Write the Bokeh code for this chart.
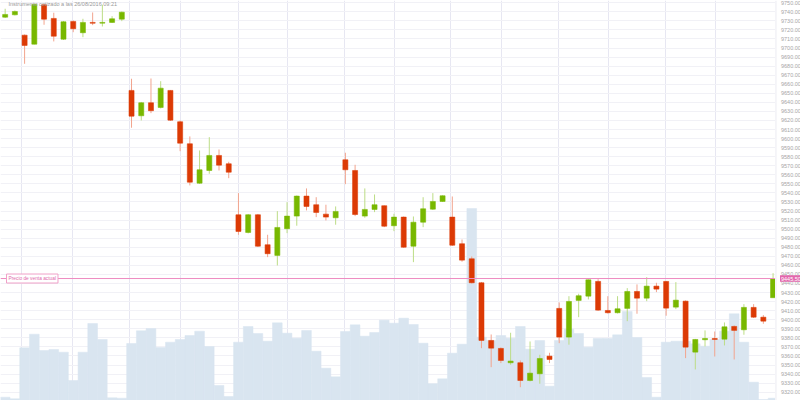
import numpy as np
from bokeh.plotting import figure
from bokeh.layouts import row
from bokeh.models import (Range1d, SingleIntervalTicker, FixedTicker, Span, Label,
                          ColumnDataSource)
from bokeh.core.properties import value
from bokeh.embed import file_html
from bokeh.resources import INLINE

title_text = "Instrumento cotizado a las 26/08/2016 09:21"
current_label = "Precio de venta actual"
current_price = 9445.5

opens = [9734.1, 9736.7, 9714.2, 9704.3, 9747.8, 9732.7, 9709.8, 9729.4, 9716.9, 9728.3,
         9727.5, 9728.3, 9731.9, 9653.2, 9625.2, 9639.6, 9634.4, 9653.2, 9618.6, 9594.3,
         9550.8, 9564.8, 9581.4, 9572.2, 9515.9, 9496.4, 9515.9, 9482.8, 9471.0, 9500.5,
         9514.4, 9536.5, 9527.0, 9516.6, 9512.6, 9576.6, 9564.8, 9514.4, 9521.8, 9525.9,
         9503.8, 9513.3, 9481.2, 9507.7, 9522.1, 9530.6, 9513.3, 9483.9, 9467.3, 9440.8,
         9377.1, 9368.3, 9352.5, 9352.5, 9332.9, 9340.3, 9359.8, 9412.5, 9380.8, 9421.3,
         9426.0, 9442.3, 9410.2, 9407.7, 9412.5, 9431.2, 9423.8, 9437.1, 9442.3, 9413.9,
         9420.5, 9364.2, 9377.9, 9379.3, 9378.5, 9392.6, 9388.9, 9413.6, 9402.8, 9424.3]

closes = [9737.1, 9740.4, 9702.9, 9748.1, 9731.9, 9713.1, 9729.0, 9721.3, 9728.3, 9727.4,
          9728.3, 9732.3, 9739.6, 9624.8, 9639.6, 9630.8, 9655.7, 9620.4, 9595.0, 9551.9,
          9565.6, 9581.4, 9570.7, 9562.9, 9497.5, 9515.9, 9481.2, 9472.9, 9501.9, 9514.4,
          9536.5, 9525.1, 9518.5, 9513.3, 9519.6, 9565.6, 9516.2, 9521.8, 9527.0, 9503.3,
          9513.3, 9480.1, 9507.7, 9522.5, 9530.6, 9536.9, 9482.3, 9465.8, 9440.8, 9377.1,
          9368.6, 9355.0, 9354.3, 9332.9, 9341.0, 9357.2, 9356.1, 9380.8, 9420.2, 9426.5,
          9444.1, 9410.6, 9407.7, 9412.1, 9431.2, 9423.8, 9437.1, 9433.8, 9412.8, 9421.6,
          9369.7, 9378.2, 9379.3, 9378.2, 9392.2, 9388.2, 9413.6, 9402.8, 9398.4, 9445.5]

highs = [9743.4, 9741.5, 9715.0, 9749.2, 9748.7, 9739.0, 9729.9, 9730.5, 9732.3, 9739.3,
         9747.8, 9735.2, 9740.4, 9666.1, 9640.5, 9666.4, 9663.4, 9653.7, 9620.0, 9602.4,
         9586.9, 9601.6, 9588.0, 9574.4, 9539.8, 9516.8, 9516.8, 9493.8, 9519.9, 9529.8,
         9537.2, 9545.0, 9535.3, 9527.0, 9525.1, 9584.4, 9571.1, 9545.0, 9538.3, 9526.2,
         9517.0, 9514.0, 9514.0, 9535.3, 9539.8, 9537.4, 9536.1, 9488.6, 9469.9, 9441.7,
         9383.7, 9369.4, 9385.6, 9355.0, 9376.0, 9361.3, 9363.5, 9419.1, 9426.0, 9428.7,
         9444.5, 9444.8, 9426.0, 9426.0, 9434.9, 9439.0, 9447.0, 9440.8, 9442.8, 9441.5,
         9421.3, 9378.8, 9388.2, 9387.0, 9397.0, 9393.7, 9417.2, 9417.2, 9405.1, 9451.4]

lows = [9733.2, 9736.0, 9682.6, 9704.0, 9725.7, 9707.3, 9708.9, 9717.5, 9712.0, 9725.3,
        9723.8, 9727.7, 9729.7, 9612.0, 9620.0, 9628.1, 9633.3, 9619.5, 9586.1, 9548.3,
        9549.9, 9561.2, 9564.8, 9556.3, 9493.8, 9495.3, 9480.4, 9469.1, 9459.9, 9495.6,
        9503.8, 9520.7, 9513.3, 9509.6, 9504.9, 9549.7, 9514.4, 9512.6, 9518.8, 9502.2,
        9497.8, 9479.3, 9463.6, 9502.2, 9521.2, 9530.0, 9481.5, 9464.0, 9440.0, 9368.6,
        9347.6, 9352.1, 9350.3, 9325.5, 9331.8, 9329.3, 9352.1, 9374.1, 9372.4, 9402.8,
        9422.4, 9409.7, 9406.9, 9406.9, 9398.4, 9406.6, 9420.5, 9430.5, 9404.4, 9411.7,
        9357.6, 9345.1, 9370.5, 9359.4, 9371.6, 9356.1, 9383.4, 9401.9, 9395.5, 9424.3]

volumes = [33, 17, 527, 663, 500, 510, 483, 200, 483, 770,
           610, 27, 23, 570, 697, 720, 530, 583, 610, 650,
           693, 540, 150, 40, 583, 740, 670, 593, 777, 673,
           623, 700, 493, 323, 237, 690, 757, 643, 680, 803,
           773, 823, 760, 573, 167, 217, 473, 563, 1920, 633,
           600, 650, 623, 740, 513, 600, 143, 600, 713, 670,
           533, 620, 620, 657, 890, 630, 230, 33, 583, 593,
           593, 567, 543, 610, 693, 867, 583, 183, 10, 23]

# time grid ticks (in candle units)
time_ticks = [1.68, 6.95, 12.8, 18.0, 23.97, 29.0, 34.9, 40.05, 45.8, 51.1,
              56.9, 62.1, 67.9, 73.1]

# price axis ticks
price_ticks = list(range(9320, 9751, 10))
price_tick_labels = [f"{t:.2f}" for t in price_ticks]

GREEN = "#78b800"
RED = "#dc3a05"
GREEN_W = "#bcdd86"
RED_W = "#f2a48e"
PINK = "#e367ad"

n = len(opens)
idx = np.arange(n)
o = np.array(opens); c = np.array(closes)
up = c >= o
src = ColumnDataSource(dict(
    x=idx, top=np.maximum(o, c), bottom=np.minimum(o, c),
    high=highs, low=lows,
    body=[GREEN if u else RED for u in up],
    wick=[GREEN_W if u else RED_W for u in up],
))
vsrc = ColumnDataSource(dict(x=idx, v=volumes))

yr = Range1d(9310.8, 9752.5)

p = figure(width=775, height=400, output_backend="svg", toolbar_location=None,
           x_range=Range1d(-0.48, 79.25), y_range=yr,
           min_border_left=0, min_border_top=0, min_border_bottom=0, min_border_right=0)
p.outline_line_color = None
p.background_fill_color = "white"
p.extra_y_ranges = {"vol": Range1d(0, 4000)}
p.xaxis.visible = False
p.yaxis.visible = False
p.xgrid.ticker = FixedTicker(ticks=time_ticks)
p.xgrid.grid_line_color = "#e7e7f2"
p.ygrid.ticker = SingleIntervalTicker(interval=10)
p.ygrid.grid_line_color = "#f1f1f6"

p.vbar(x="x", width=1.0, top="v", bottom=0, source=vsrc, y_range_name="vol",
       fill_color="#d9e5f0", line_color="#d9e5f0", line_width=0.5)

p.segment(x0="x", y0="low", x1="x", y1="high", source=src, line_color="wick", line_width=1)
p.vbar(x="x", width=0.52, top="top", bottom="bottom", source=src,
       fill_color="body", line_color="body", line_alpha=0.55, line_width=1)

p.add_layout(Span(location=current_price, dimension="width", line_color="#ee8cc2", line_width=1))

p.add_layout(Label(x=0.14, y=current_price, text=current_label, text_baseline="middle",
                   text_font_size="4.8px", text_color="#e06aaa", text_font="Liberation Sans",
                   background_fill_color="white", border_line_color="#f0a0c8",
                   padding=2))
p.add_layout(Label(x=0.34, y=9752.5, y_offset=-0.5, text=title_text, text_baseline="top",
                   text_font_size="5.5px", text_color="#999999", text_font="Liberation Sans"))

# right price scale panel
p2 = figure(width=25, height=400, output_backend="svg", toolbar_location=None,
            x_range=Range1d(0, 25), y_range=yr,
            min_border_left=0, min_border_top=0, min_border_bottom=0, min_border_right=0)
p2.outline_line_color = None
p2.xaxis.visible = False
p2.yaxis.visible = False
p2.grid.visible = False
p2.add_layout(Span(location=0.3, dimension="height", line_color="#dfe0ec", line_width=1))
tsrc = ColumnDataSource(dict(y=price_ticks, t=price_tick_labels))
p2.text(x=5.5, y="y", text="t", source=tsrc, text_font=value("Liberation Sans"),
        text_font_size="5.5px", text_color="#a6a6a6", text_baseline="middle", text_align="left")
p2.quad(left=4.5, right=25, bottom=current_price - 3.7, top=current_price + 3.7,
        fill_color=PINK, line_color=None)
p2.text(x=[5.5], y=[current_price], text=[f"{current_price:.2f}"], text_font=value("Liberation Sans"),
        text_font_size="5.5px", text_color="white", text_baseline="middle", text_align="left")

layout = row(p, p2, spacing=0)
html = file_html(layout, INLINE)
open("out.html", "w").write(html)
